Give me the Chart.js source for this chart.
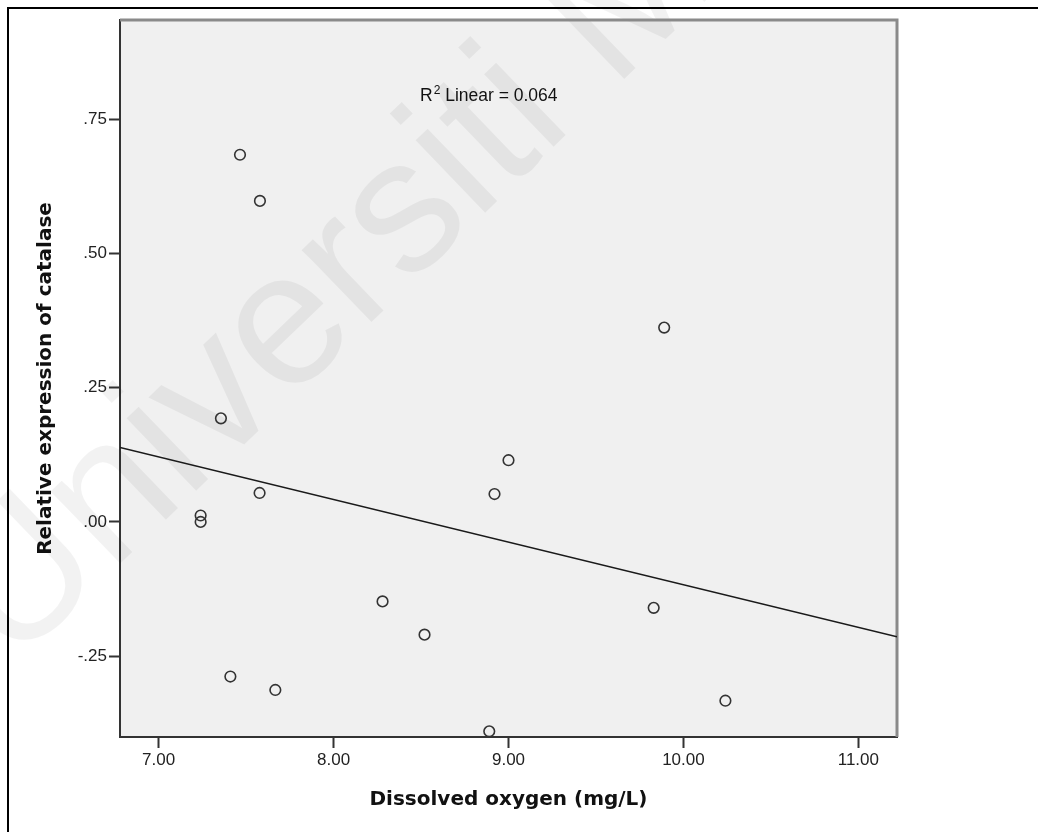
<!DOCTYPE html>
<html>
<head>
<meta charset="utf-8">
<script src="https://cdn.jsdelivr.net/npm/chart.js@4.4.0/dist/chart.umd.min.js"></script>
<style>
  html, body { margin: 0; padding: 0; background: #ffffff; }
  #wrap { width: 1038px; height: 832px; position: relative; }
</style>
</head>
<body>
<div id="wrap"><canvas id="c" width="1038" height="832"></canvas></div>
<script>
// ---- data ----
const dissolvedOxygen = [7.465, 7.579, 7.356, 7.577, 7.24, 7.24, 7.41, 7.667, 8.28, 8.52, 8.89, 8.92, 9.00, 9.89, 9.83, 10.24];
const catalaseExpression = [0.684, 0.598, 0.193, 0.054, 0.012, 0.000, -0.288, -0.313, -0.148, -0.210, -0.390, 0.052, 0.115, 0.362, -0.160, -0.333];
const fitLineX = [6.779, 11.221];
const fitLineY = [0.1386, -0.214];
const xTickValues = [7, 8, 9, 10, 11];
const xTickLabels = ['7.00', '8.00', '9.00', '10.00', '11.00'];
const yTickValues = [-0.25, 0, 0.25, 0.5, 0.75];
const yTickLabels = ['-.25', '.00', '.25', '.50', '.75'];
const xRange = [6.779, 11.221];
const yRange = [-0.4006, 0.935];
const xTitle = 'Dissolved oxygen (mg/L)';
const yTitle = 'Relative expression of catalase';
const fitLabel = { base: 'R', sup: '2', rest: ' Linear = 0.064' };
const watermarkText = 'Universiti Malaya';

const points = dissolvedOxygen.map((x, i) => ({ x: x, y: catalaseExpression[i] }));
const fitPoints = fitLineX.map((x, i) => ({ x: x, y: fitLineY[i] }));

const decorPlugin = {
  id: 'decor',
  beforeDraw(chart) {
    const ctx = chart.ctx;
    const a = chart.chartArea;
    ctx.save();
    ctx.fillStyle = '#ffffff';
    ctx.fillRect(0, 0, chart.width, chart.height);
    ctx.fillStyle = '#f0f0f0';
    ctx.fillRect(a.left, a.top, a.right - a.left, a.bottom - a.top);
    // outer frame (top and left)
    ctx.strokeStyle = '#000000';
    ctx.lineWidth = 2;
    ctx.beginPath();
    ctx.moveTo(8, chart.height);
    ctx.lineTo(8, 8);
    ctx.lineTo(chart.width, 8);
    ctx.stroke();
    ctx.restore();
  },
  beforeDatasetsDraw(chart) {
    const ctx = chart.ctx;
    const a = chart.chartArea;
    ctx.save();
    // watermark
    ctx.translate(12, 668);
    ctx.rotate(-Math.PI / 4.1);
    ctx.font = '190px "Liberation Sans", Arial, sans-serif';
    ctx.fillStyle = 'rgba(0,0,0,0.05)';
    ctx.textBaseline = 'alphabetic';
    ctx.fillText(watermarkText, 0, 0);
    ctx.restore();

    ctx.save();
    // top & right frame of plot
    ctx.strokeStyle = '#8a8a8a';
    ctx.lineWidth = 3;
    ctx.beginPath();
    ctx.moveTo(a.left, a.top);
    ctx.lineTo(a.right, a.top);
    ctx.lineTo(a.right, a.bottom);
    ctx.stroke();
    // R^2 annotation
    ctx.fillStyle = '#111111';
    ctx.textBaseline = 'alphabetic';
    ctx.font = '17.5px "Liberation Sans", Arial, sans-serif';
    let x = 420, y = 101;
    ctx.fillText(fitLabel.base, x, y);
    x += ctx.measureText(fitLabel.base).width;
    ctx.font = '12px "Liberation Sans", Arial, sans-serif';
    ctx.fillText(fitLabel.sup, x + 1, y - 7);
    x += ctx.measureText(fitLabel.sup).width + 1;
    ctx.font = '17.5px "Liberation Sans", Arial, sans-serif';
    ctx.fillText(fitLabel.rest, x, y);
    ctx.restore();
  }
};

new Chart(document.getElementById('c'), {
  type: 'scatter',
  data: {
    datasets: [
      {
        type: 'line',
        data: fitPoints,
        borderColor: '#1a1a1a',
        borderWidth: 1.6,
        pointRadius: 0,
        fill: false,
        tension: 0,
        order: 2
      },
      {
        data: points,
        pointStyle: 'circle',
        pointRadius: 5.3,
        pointBorderWidth: 1.6,
        borderColor: '#333333',
        backgroundColor: 'rgba(0,0,0,0)',
        pointBackgroundColor: 'rgba(0,0,0,0)',
        pointBorderColor: '#333333',
        order: 1
      }
    ]
  },
  options: {
    responsive: false,
    animation: false,
    devicePixelRatio: 1,
    layout: { padding: { top: 20, right: 141, left: 0, bottom: 0 } },
    plugins: { legend: { display: false }, tooltip: { enabled: false } },
    scales: {
      x: {
        type: 'linear',
        min: xRange[0],
        max: xRange[1],
        afterFit(s) { s.height = 95; },
        afterBuildTicks(s) { s.ticks = xTickValues.map(v => ({ value: v })); },
        grid: { drawOnChartArea: false, tickLength: 11, tickColor: '#333333', tickWidth: 2 },
        border: { color: '#333333', width: 2 },
        ticks: {
          padding: 2,
          color: '#222222',
          font: { family: '"Liberation Sans", Arial, sans-serif', size: 17 },
          maxRotation: 0,
          autoSkip: false,
          callback: (v) => xTickLabels[xTickValues.indexOf(v)]
        },
        title: {
          display: true,
          text: xTitle,
          color: '#111111',
          font: { family: '"DejaVu Sans", Verdana, sans-serif', size: 20, weight: 'bold' },
          padding: { top: 0, bottom: 20 }
        }
      },
      y: {
        type: 'linear',
        min: yRange[0],
        max: yRange[1],
        afterFit(s) { s.width = 120; },
        afterBuildTicks(s) { s.ticks = yTickValues.map(v => ({ value: v })); },
        grid: { drawOnChartArea: false, tickLength: 11, tickColor: '#333333', tickWidth: 2 },
        border: { color: '#333333', width: 2 },
        ticks: {
          padding: 2,
          color: '#222222',
          font: { family: '"Liberation Sans", Arial, sans-serif', size: 17 },
          autoSkip: false,
          callback: (v) => yTickLabels[yTickValues.indexOf(v)]
        },
        title: {
          display: true,
          text: yTitle,
          color: '#111111',
          font: { family: '"DejaVu Sans", Verdana, sans-serif', size: 20, weight: 'bold' },
          padding: { top: 34, bottom: 0 }
        }
      }
    }
  },
  plugins: [decorPlugin]
});
</script>
</body>
</html>
